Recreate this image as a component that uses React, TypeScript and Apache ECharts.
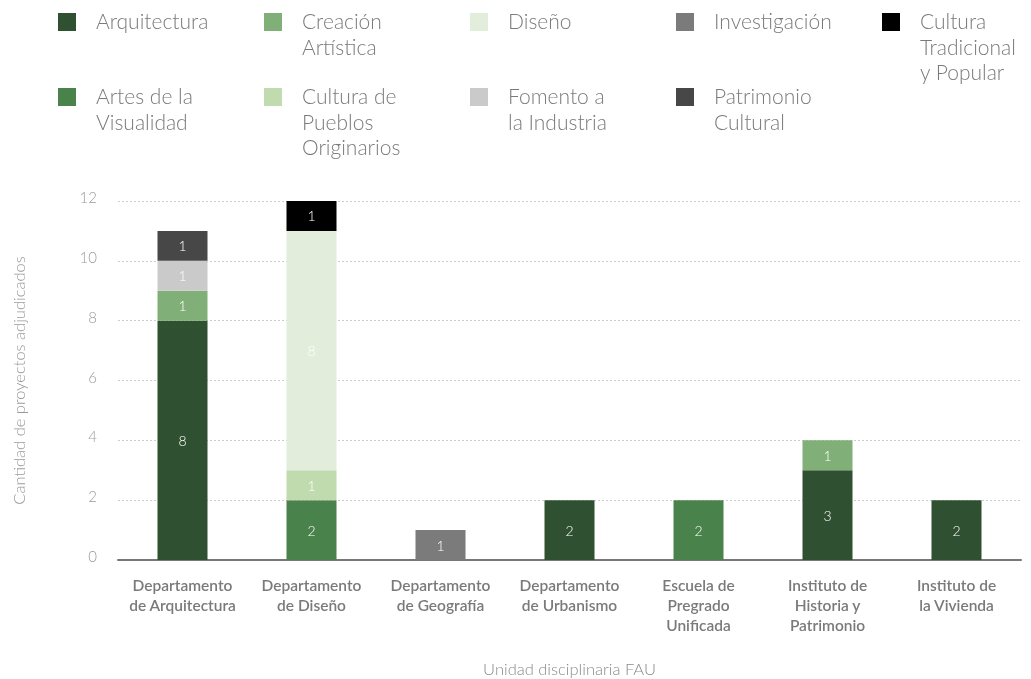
import React, { useEffect, useRef } from "react";
import * as echarts from "echarts";

const categories = [
  "Departamento\nde Arquitectura",
  "Departamento\nde Diseño",
  "Departamento\nde Geografía",
  "Departamento\nde Urbanismo",
  "Escuela de\nPregrado\nUnificada",
  "Instituto de\nHistoria y\nPatrimonio",
  "Instituto de\nla Vivienda",
];

const seriesNames = [
  "Arquitectura",
  "Artes de la Visualidad",
  "Creación Artística",
  "Cultura de Pueblos Originarios",
  "Diseño",
  "Fomento a la Industria",
  "Patrimonio Cultural",
  "Cultura Tradicional y Popular",
  "Investigación",
];

const arquitectura = [8, 0, 0, 2, 0, 3, 2];
const artesVisualidad = [0, 2, 0, 0, 2, 0, 0];
const creacionArtistica = [1, 0, 0, 0, 0, 1, 0];
const pueblosOriginarios = [0, 1, 0, 0, 0, 0, 0];
const diseno = [0, 8, 0, 0, 0, 0, 0];
const fomentoIndustria = [1, 0, 0, 0, 0, 0, 0];
const patrimonioCultural = [1, 0, 0, 0, 0, 0, 0];
const culturaTradicional = [0, 1, 0, 0, 0, 0, 0];
const investigacion = [0, 0, 1, 0, 0, 0, 0];

const seriesValues = [
  arquitectura,
  artesVisualidad,
  creacionArtistica,
  pueblosOriginarios,
  diseno,
  fomentoIndustria,
  patrimonioCultural,
  culturaTradicional,
  investigacion,
];

const seriesColors = [
  "#2f5131",
  "#4a824b",
  "#80b078",
  "#c0dcae",
  "#e3eddb",
  "#cacaca",
  "#474747",
  "#000000",
  "#7b7b7b",
];

// legend reading order (two rows) and displayed text with line breaks
const legendRow1 = ["Arquitectura", "Creación Artística", "Diseño", "Investigación", "Cultura Tradicional y Popular"];
const legendRow2 = ["Artes de la Visualidad", "Cultura de Pueblos Originarios", "Fomento a la Industria", "Patrimonio Cultural"];
const legendText: Record<string, string> = {
  "Arquitectura": "Arquitectura",
  "Creación Artística": "Creación\nArtística",
  "Diseño": "Diseño",
  "Investigación": "Investigación",
  "Cultura Tradicional y Popular": "Cultura\nTradicional\ny Popular",
  "Artes de la Visualidad": "Artes de la\nVisualidad",
  "Cultura de Pueblos Originarios": "Cultura de\nPueblos\nOriginarios",
  "Fomento a la Industria": "Fomento a\nla Industria",
  "Patrimonio Cultural": "Patrimonio\nCultural",
};

const yTicks = [0, 2, 4, 6, 8, 10, 12];

const FONT = "Lato, 'Open Sans', sans-serif";

export default function App() {
  const ref = useRef<HTMLDivElement>(null);

  useEffect(() => {
    if (!ref.current) return;
    const chart = echarts.init(ref.current, undefined, { renderer: "svg" });

    const legendGraphics: any[] = [];
    const addRow = (row: string[], y: number) => {
      row.forEach((name, i) => {
        const x = 58 + 206 * i;
        const idx = seriesNames.indexOf(name);
        legendGraphics.push({
          type: "rect",
          x,
          y,
          shape: { x: 0, y: 0, width: 18, height: 18 },
          style: { fill: seriesColors[idx] },
        });
        legendGraphics.push({
          type: "text",
          x: x + 38,
          y: y - 5,
          style: {
            text: legendText[name],
            font: `300 21px ${FONT}`,
            lineHeight: 25.5,
            fill: "#7a7a7a",
            verticalAlign: "top",
            align: "left",
          },
        });
      });
    };
    addRow(legendRow1, 13);
    addRow(legendRow2, 88);

    chart.setOption({
      animation: false,
      textStyle: { fontFamily: FONT },
      grid: {
        left: 118,
        right: 10,
        top: 201,
        bottom: 119,
        containLabel: false,
        outerBoundsMode: "none",
      },
      graphic: legendGraphics,
      xAxis: {
        type: "category",
        data: categories,
        name: "Unidad disciplinaria FAU",
        nameLocation: "middle",
        nameGap: 100,
        nameTextStyle: { color: "#8a8a8a", fontSize: 16.5, fontWeight: 300, fontFamily: FONT },
        axisLine: { lineStyle: { color: "#777777", width: 2 } },
        axisTick: { show: false },
        axisLabel: {
          interval: 0,
          margin: 15,
          color: "#7a7a7a",
          fontSize: 15.5,
          fontWeight: 600,
          lineHeight: 20,
          fontFamily: FONT,
        },
      },
      yAxis: {
        type: "value",
        min: yTicks[0],
        max: yTicks[yTicks.length - 1],
        interval: 2,
        name: "Cantidad de proyectos adjudicados",
        nameLocation: "middle",
        nameGap: 91,
        nameTextStyle: { color: "#9a9a9a", fontSize: 16.5, fontWeight: 300, fontFamily: FONT },
        axisLine: { show: false },
        axisTick: { show: false },
        axisLabel: {
          color: "#9a9a9a",
          fontSize: 15,
          fontWeight: 300,
          margin: 21,
          fontFamily: FONT,
          verticalAlign: "bottom",
          lineHeight: 8,
        },
        splitLine: { lineStyle: { color: "#cccccc", type: [2, 2], width: 1 } },
      },
      series: seriesNames.map((name, i) => ({
        name,
        type: "bar",
        stack: "total",
        barWidth: 50,
        itemStyle: { color: seriesColors[i] },
        label: {
          show: true,
          position: "inside",
          color: "#ffffff",
          fontSize: 14,
          fontWeight: 300,
          fontFamily: FONT,
          formatter: (p: any) => (p.value ? String(p.value) : ""),
        },
        data: seriesValues[i].map((v) => (v === 0 ? null : v)),
      })),
    });

    return () => chart.dispose();
  }, []);

  return (
    <div
      ref={ref}
      style={{ position: "fixed", left: 0, top: 0, width: 1031, height: 679 }}
    />
  );
}
